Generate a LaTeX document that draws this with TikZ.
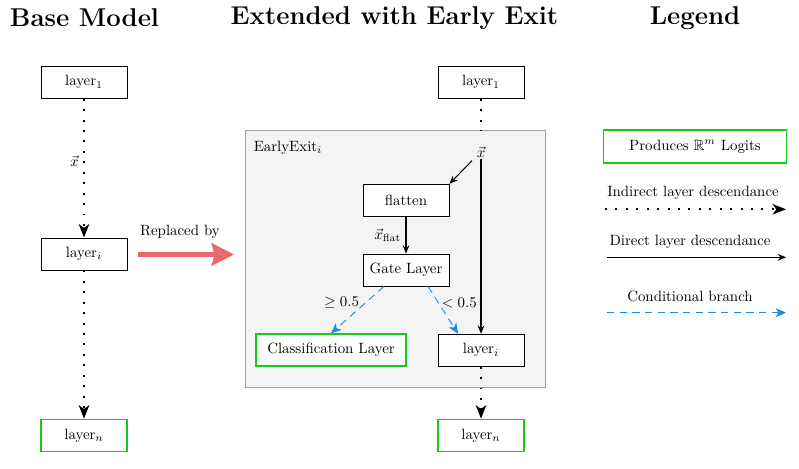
\documentclass[tikz,border=0pt]{standalone}
\usepackage{amsmath,amssymb}
\usetikzlibrary{arrows.meta,calc}
\definecolor{ggreen}{RGB}{25,200,25}
\definecolor{gblue}{RGB}{30,136,229}
\definecolor{gred}{RGB}{233,106,106}
\definecolor{boxfill}{RGB}{244,244,244}
\definecolor{boxline}{RGB}{160,160,160}
\begin{document}
\begin{tikzpicture}[x=0.6711pt,y=-0.6711pt,
  layerbox/.style={draw=black, line width=0.6pt, fill=white, minimum width=57.7pt, minimum height=21.5pt, inner sep=0pt},
  logitbox/.style={layerbox, draw=ggreen, line width=1.1pt},
  titletext/.style={font=\LARGE\bfseries, inner sep=0pt},
  plain/.style={inner sep=1pt, text=black},
  indirect/.style={line width=1.3pt, dash pattern=on 1.3pt off 5.7pt, -{Stealth[length=9pt,width=7pt,inset=2.5pt]}},
  indirectnt/.style={line width=1.3pt, dash pattern=on 1.3pt off 5.7pt},
  direct/.style={line width=0.7pt, -{Stealth[length=5.5pt,width=4.5pt]}},
  cond/.style={gblue, line width=0.6pt, dash pattern=on 5pt off 3.5pt, -{Stealth[length=7pt,width=6pt,inset=2pt]}},
  replarrow/.style={gred, line width=3.4pt, -{Stealth[length=15pt,width=15pt,inset=2pt]}},
]
\useasboundingbox (0,0) rectangle (799,468);

% titles
\node[titletext] (t1) at (84.5,18) {Base Model};
\node[titletext] (t2) at (394.5,18) {Extended with Early Exit};
\node[titletext] (t3) at (695,18) {Legend};

% early exit container
\node[draw=boxline, fill=boxfill, line width=0.8pt, minimum width=201.3pt, minimum height=172.5pt, inner sep=0pt] (ee) at (395.3,259.2) {};
\node[plain, anchor=west] (eel) at (252,147.5) {EarlyExit$_i$};

% extended model
\node[layerbox] (m1) at (481,82.3) {layer$_1$};
\node[plain] (xv) at (481,152) {$\vec{x}$};
\node[layerbox] (fl) at (406,200.3) {flatten};
\node[layerbox] (gt) at (406,270) {Gate Layer};
\node[logitbox, minimum width=100.7pt] (cl) at (331,350.2) {Classification Layer};
\node[layerbox] (mi) at (481,350.2) {layer$_i$};
\node[logitbox] (mn) at (481,435.5) {layer$_n$};

% base model
\node[layerbox] (b1) at (84,82.3) {layer$_1$};
\node[layerbox] (bi) at (84,254) {layer$_i$};
\node[logitbox] (baselast) at (84,435.5) {layer$_n$};
\draw[indirect] (b1) -- node[left, plain, pos=0.45, xshift=-2pt] (bx) {$\vec{x}$} (bi);
\draw[indirect] (bi) -- (baselast);

% replaced by
\coordinate (rs) at (138,254.5);
\coordinate (re) at (234,254.5);
\draw[replarrow] (rs) -- (re);
\node[plain] (rl) at (180,232) {Replaced by};

\draw[indirectnt] (m1) -- (m1 |- ee.north);
\draw[direct] ([xshift=-6pt,yshift=-1pt]xv.south) -- (fl.north east);
\draw[direct] (xv) -- (mi);
\draw[direct] (fl) -- node[left, plain, xshift=-2pt] (xfl) {$\vec{x}_{\text{flat}}$} (gt);
\draw[cond] ([xshift=-14.8pt]gt.south) -- node[left, plain, pos=0.35, xshift=-3pt] (ge) {$\geq 0.5$} (cl.north);
\draw[cond] ([xshift=14.8pt]gt.south) -- node[right, plain, pos=0.35, xshift=1pt] (lt) {$<0.5$} ([xshift=-15.4pt]mi.north);
\draw[indirect] (mi) -- (mn);

% legend
\node[logitbox, minimum width=122.8pt, minimum height=22pt] (lg) at (695,146.7) {Produces $\mathbb{R}^m$ Logits};
\node[plain] (l1t) at (693,193) {Indirect layer descendance};
\coordinate (l1a) at (605,209.3);
\coordinate (l1b) at (786,209.3);
\draw[indirect] (l1a) -- (l1b);
\node[plain] (l2t) at (690,242) {Direct layer descendance};
\coordinate (l2a) at (607,257.3);
\coordinate (l2b) at (786,257.3);
\draw[direct] (l2a) -- (l2b);
\node[plain] (l3t) at (690,296) {Conditional branch};
\coordinate (l3a) at (607,312.7);
\coordinate (l3b) at (786,312.7);
\draw[cond] (l3a) -- (l3b);
\end{tikzpicture}
\end{document}
